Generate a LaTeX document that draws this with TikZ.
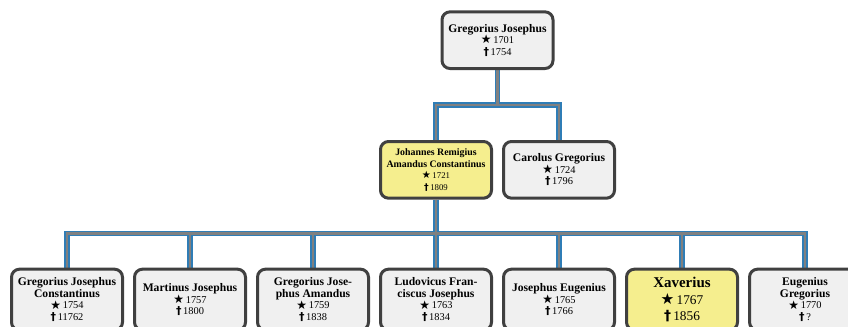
\documentclass[tikz,border=0pt]{standalone}
\usepackage{fontspec}
\usepackage{graphicx}
\setmainfont{Liberation Serif}
\newfontfamily\symfont{DejaVu Sans}
\usetikzlibrary{calc,positioning,backgrounds}

\definecolor{boxline}{HTML}{404040}
\definecolor{boxgray}{HTML}{F0F0F0}
\definecolor{boxyellow}{HTML}{F5EE8E}
\definecolor{edgeblue}{HTML}{2F7DB6}
\definecolor{edgegray}{HTML}{808080}

\newcommand{\gborn}[1]{\raisebox{-0.05ex}{\scalebox{1.15}{\symfont★}}\,#1}
\newcommand{\gdied}[1]{\scalebox{1.05}{\symfont\bfseries†}\,#1}
\newcommand{\gname}[1]{\fontsize{8.7}{10.4}\selectfont\bfseries #1}
\newcommand{\gsmall}{\fontsize{6.6}{7.6}\selectfont}

\begin{document}
\begin{tikzpicture}[
        node distance=6.75pt,
        person/.style={draw=boxline, fill=boxgray, line width=2.25pt, rounded corners=6pt,
            minimum width=83.25pt, minimum height=42.5pt, align=center, inner sep=2pt,
            font=\fontsize{7.8}{8.6}\selectfont},
        kidbox/.style={person, minimum height=45.75pt},
        marked/.style={fill=boxyellow},
        edgeback/.style={draw=edgeblue, line width=4pt},
        edgefore/.style={draw=edgegray, line width=2.2pt}
    ]

    \useasboundingbox (0,0) rectangle (636pt,-244.5pt);

    % Parents generation
    \coordinate (parents) at (327pt,-105pt);
    \node[person, marked, below=0pt of parents] (johannes) {\fontsize{7.4}{8.4}\selectfont\bfseries Johannes Remigius\\\fontsize{7.4}{8.6}\selectfont\bfseries Amandus Constantinus\\\gsmall\gborn{1721}\\\gsmall\gdied{1809}};
    \node[person, right=of johannes] (carolus) {\gname{Carolus Gregorius}\\\gborn{1724}\\\gdied{1796}};

    % Grandparent
    \node[person, above=52.5pt of $(johannes.north)!0.5!(carolus.north)$] (gregorius) {\gname{Gregorius Josephus}\\\gborn{1701}\\\gdied{1754}};

    % Children
    \node[kidbox, below=51pt of johannes] (ludovicus) {\gname{Ludovicus Fran-}\\\gname{ciscus Josephus}\\\gborn{1763}\\\gdied{1834}};
    \node[kidbox, left=of ludovicus] (gregamand) {\gname{Gregorius Jose-}\\\gname{phus Amandus}\\\gborn{1759}\\\gdied{1838}};
    \node[kidbox, left=of gregamand] (martinus) {\gname{Martinus Josephus}\\\gborn{1757}\\\gdied{1800}};
    \node[kidbox, left=of martinus] (gregconst) {\gname{Gregorius Josephus}\\\gname{Constantinus}\\\gborn{1754}\\\gdied{11762}};
    \node[kidbox, right=of ludovicus] (josephus) {\gname{Josephus Eugenius}\\\gborn{1765}\\\gdied{1766}};
    \node[kidbox, marked, right=of josephus, font=\fontsize{10}{12.5}\selectfont] (xaverius) {\fontsize{11.2}{13.5}\selectfont\bfseries Xaverius\\\gborn{1767}\\\gdied{1856}};
    \node[kidbox, right=of xaverius] (eugenius) {\gname{Eugenius}\\\gname{Gregorius}\\\gborn{1770}\\\gdied{?}};

    % Family edges
    \begin{pgfonlayer}{background}
        \foreach \e in {edgeback,edgefore} {
            \draw[\e] (gregorius.south) -- ++(0,-26.25pt) coordinate (fam1);
            \draw[\e] (johannes.north) |- (fam1) -| (carolus.north);
            \draw[\e] (johannes.south) -- ++(0,-25.5pt) coordinate (fam2);
            \draw[\e] (gregconst.north) |- (fam2) -| (eugenius.north);
            \foreach \c in {martinus,gregamand,ludovicus,josephus,xaverius}
                \draw[\e] (\c.north) -- (\c.north |- fam2);
        }
    \end{pgfonlayer}

\end{tikzpicture}
\end{document}
